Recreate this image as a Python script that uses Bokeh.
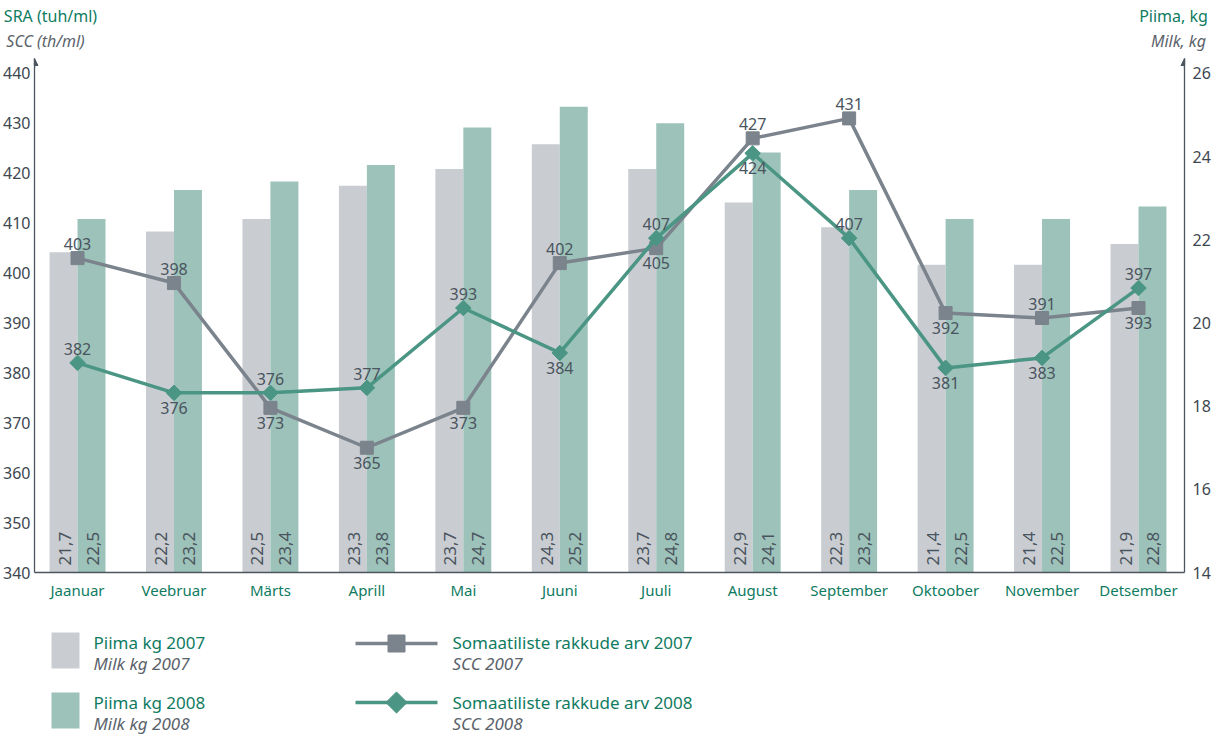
import numpy as np
from bokeh.plotting import figure
from bokeh.models import Range1d, LinearAxis, FixedTicker, Arrow, NormalHead, ColumnDataSource
from bokeh.layouts import column
from bokeh.embed import file_html
from bokeh.resources import INLINE
from bokeh.core.properties import value

# ---------------- data ----------------
months = ["Jaanuar", "Veebruar", "Märts", "Aprill", "Mai", "Juuni", "Juuli",
          "August", "September", "Oktoober", "November", "Detsember"]
milk_2007 = [21.7, 22.2, 22.5, 23.3, 23.7, 24.3, 23.7, 22.9, 22.3, 21.4, 21.4, 21.9]
milk_2008 = [22.5, 23.2, 23.4, 23.8, 24.7, 25.2, 24.8, 24.1, 23.2, 22.5, 22.5, 22.8]
scc_2007 = [403, 398, 373, 365, 373, 402, 405, 427, 431, 392, 391, 393]
scc_2008 = [382, 376, 376, 377, 393, 384, 407, 424, 407, 381, 383, 397]
scc_2007_side = ["above", "above", "below", "below", "below", "above",
                 "below", "above", "above", "below", "above", "below"]
scc_2008_side = ["above", "below", "above", "above", "above", "below",
                 "above", "below", "above", "below", "below", "above"]
left_ticks = [340, 350, 360, 370, 380, 390, 400, 410, 420, 430, 440]
right_ticks = [14, 16, 18, 20, 22, 24, 26]
title_main = ["SRA (tuh/ml)", "Piima, kg"]
title_sub = ["SCC (th/ml)", "Milk, kg"]

# ---------------- styles ----------------
FONT = "Noto Sans"
GREEN_TXT = "#0f7b5f"
GRAY_TXT = "#5b636b"
NUM_TXT = "#4a545e"
BAR07 = "#c9cdd1"
BAR08 = "#9dc2b9"
LINE07 = "#7b838c"
LINE08 = "#4a9583"
AXIS = "#4d565e"

FW, FH = 1150, 514
BL, BT, BR, BB = 29, 58, 28, 46
LEG_H = 117

L_START, L_END = 340, 443
R_START = 14
R_END = R_START + (L_END - L_START) * 12 / 100.0
X_START, X_END = -0.446, 11.477

p = figure(frame_width=FW, frame_height=FH, output_backend="svg", toolbar_location=None,
           x_range=Range1d(X_START, X_END), y_range=Range1d(L_START, L_END),
           min_border_left=BL, min_border_right=BR, min_border_top=BT, min_border_bottom=BB)
p.extra_y_ranges = {"milk": Range1d(R_START, R_END)}
# pixel-like range used only to place the two-line axis titles above the frame
p.extra_x_ranges = {"hdr": Range1d(38, 38 + FW)}
p.xgrid.visible = False
p.ygrid.visible = False
p.outline_line_color = None

x = np.arange(len(months))
bw = 0.29

src = ColumnDataSource(dict(
    x07=x - bw / 2, x08=x + bw / 2, m07=milk_2007, m08=milk_2008,
    t07=[f"{v:.1f}".replace(".", ",") for v in milk_2007],
    t08=[f"{v:.1f}".replace(".", ",") for v in milk_2008],
))
p.vbar(x="x07", top="m07", bottom=R_START, width=bw, source=src, fill_color=BAR07,
       line_color=None, y_range_name="milk")
p.vbar(x="x08", top="m08", bottom=R_START, width=bw, source=src, fill_color=BAR08,
       line_color=None, y_range_name="milk")
for col, t in (("x07", "t07"), ("x08", "t08")):
    p.text(x=col, y=R_START, text=t, source=src,
           angle=np.pi / 2, text_align="left", text_baseline="middle",
           y_offset=-7, x_offset=1, text_font=value(FONT), text_font_size="17px",
           text_color=NUM_TXT, y_range_name="milk")

# lines
p.line(x, scc_2007, line_color=LINE07, line_width=3.5)
p.scatter(x, scc_2007, marker="square", size=13, fill_color=LINE07, line_color=LINE07)
p.line(x, scc_2008, line_color=LINE08, line_width=3.5)
p.scatter(x, scc_2008, marker="square", angle=np.pi / 4, size=11, fill_color=LINE08, line_color=LINE08)

for vals, side in ((scc_2007, scc_2007_side), (scc_2008, scc_2008_side)):
    for s, base, off in (("above", "bottom", -8), ("below", "top", 9)):
        idx = [i for i in range(len(vals)) if side[i] == s]
        p.text(x=[x[i] for i in idx], y=[vals[i] for i in idx], text=[str(vals[i]) for i in idx],
               text_align="center", text_baseline=base, y_offset=off,
               text_font=value(FONT), text_font_size="16px", text_color=NUM_TXT)

# axes
def style_axis(ax, standoff, color, size, line=True, style="normal"):
    ax.major_label_text_color = color
    ax.major_label_text_font = FONT
    ax.major_label_text_font_size = size
    ax.major_label_text_font_style = style
    ax.major_label_standoff = standoff
    ax.major_tick_line_color = None
    ax.major_tick_out = 0
    ax.major_tick_in = 0
    ax.minor_tick_line_color = None
    ax.minor_tick_out = 0
    ax.minor_tick_in = 0
    ax.axis_line_color = AXIS if line else None
    ax.axis_line_width = 1.3

p.xaxis.ticker = FixedTicker(ticks=list(x))
p.xaxis.major_label_overrides = {int(i): m for i, m in enumerate(months)}
style_axis(p.xaxis[0], 7, GREEN_TXT, "15px")
p.yaxis.ticker = FixedTicker(ticks=left_ticks)
style_axis(p.yaxis[0], 4, "#3e4750", "16px")

ra = LinearAxis(y_range_name="milk", ticker=FixedTicker(ticks=right_ticks))
style_axis(ra, 8, "#3e4750", "16px")
p.add_layout(ra, "right")

# axis titles (two lines, left and right) drawn as labels of top axes
sub_pos = [49, 1182]
main_pos = [54, 1177]
ax_sub = LinearAxis(x_range_name="hdr", ticker=FixedTicker(ticks=sub_pos))
ax_sub.major_label_overrides = {sub_pos[i]: t for i, t in enumerate(title_sub)}
style_axis(ax_sub, 7, GRAY_TXT, "16px", line=False, style="italic")
p.add_layout(ax_sub, "above")
ax_main = LinearAxis(x_range_name="hdr", ticker=FixedTicker(ticks=main_pos))
ax_main.major_label_overrides = {main_pos[i]: t for i, t in enumerate(title_main)}
style_axis(ax_main, 0, GREEN_TXT, "16px", line=False)
p.add_layout(ax_main, "above")

for xa in (X_START, X_END):
    p.add_layout(Arrow(end=NormalHead(size=7, fill_color=AXIS, line_color=AXIS),
                       x_start=xa, y_start=L_END - 2, x_end=xa, y_end=L_END,
                       line_color=AXIS, line_width=1.3))

# ---------------- legend figure ----------------
# frame aligned with the main plot frame; data units = figure pixels
lg = figure(frame_width=FW, frame_height=LEG_H, output_backend="svg", toolbar_location=None,
            x_range=Range1d(BL, BL + FW), y_range=Range1d(LEG_H, 0),
            x_axis_location=None, y_axis_location=None,
            min_border_left=BL, min_border_right=BR, min_border_top=0, min_border_bottom=0)
lg.xgrid.visible = False
lg.ygrid.visible = False
lg.outline_line_color = None

lg.rect(x=[60, 60], y=[32, 92], width=28, height=[36, 36], fill_color=[BAR07, BAR08], line_color=None)
lg.line(x=[350, 432], y=[25, 25], line_color=LINE07, line_width=3.5)
lg.scatter(x=[391], y=[25], marker="square", size=17, fill_color=LINE07, line_color=LINE07)
lg.line(x=[350, 432], y=[84, 84], line_color=LINE08, line_width=3.5)
lg.scatter(x=[391], y=[84], marker="square", angle=np.pi / 4, size=15, fill_color=LINE08, line_color=LINE08)

leg_main = ["Piima kg 2007", "Piima kg 2008", "Somaatiliste rakkude arv 2007", "Somaatiliste rakkude arv 2008"]
leg_sub = ["Milk kg 2007", "Milk kg 2008", "SCC 2007", "SCC 2008"]
lx = [88, 88, 447, 447]
ly = [24, 84, 24, 84]
lg.text(x=lx, y=ly, text=leg_main, text_font=value(FONT), text_font_size="17px",
        text_color=GREEN_TXT, text_baseline="middle", text_align="left")
lg.text(x=lx, y=[v + 21 for v in ly], text=leg_sub, text_font=value(FONT), text_font_size="17px",
        text_font_style="italic", text_color=GRAY_TXT, text_baseline="middle", text_align="left")

layout = column(p, lg, spacing=0)
open("out.html", "w").write(file_html(layout, INLINE))
